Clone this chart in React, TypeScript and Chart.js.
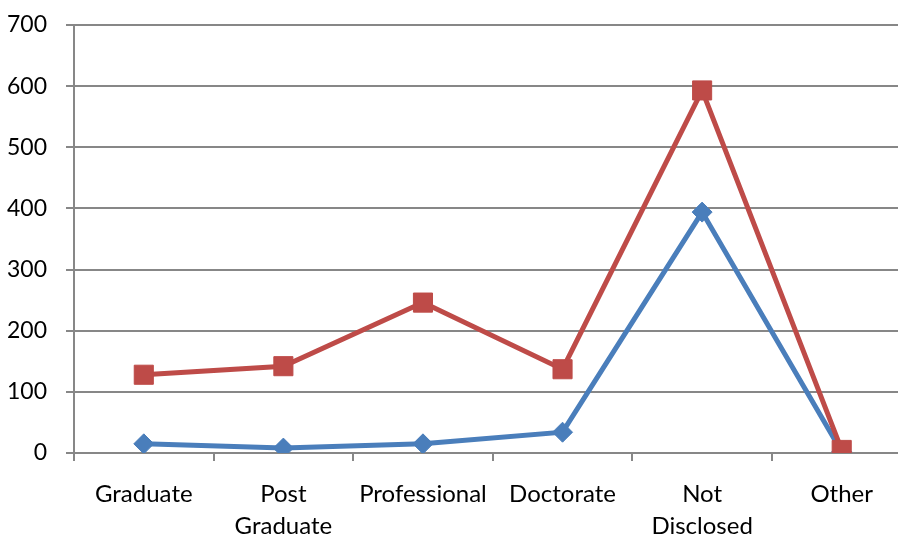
import React, { useEffect, useRef } from "react";
import { Chart, registerables } from "chart.js";

Chart.register(...registerables);

const categories: (string | string[])[] = [
  "Graduate",
  ["Post", "Graduate"],
  "Professional",
  "Doctorate",
  ["Not", "Disclosed"],
  "Other",
];
const seriesA = [15, 8, 15, 34, 394, 2];
const seriesB = [128, 142, 246, 137, 593, 5];
const yTicks = { min: 0, max: 700, step: 100 };

const FONT = "Lato, 'Open Sans', 'Liberation Sans', sans-serif";
const GRID = "#878787";

// drop the automatic label overhang so the plot area is set by layout padding only
const noOverhang = (s: any) => {
  s.paddingTop = 0;
  s.paddingBottom = 0;
  s.paddingLeft = 0;
  s.paddingRight = 0;
};

// the plot runs a little past the right edge of the visible frame
const CANVAS_W = 926;

export default function App() {
  const ref = useRef<HTMLCanvasElement | null>(null);

  useEffect(() => {
    if (!ref.current) return;
    const chart = new Chart(ref.current, {
      type: "line",
      data: {
        labels: categories,
        datasets: [
          {
            label: "A",
            data: seriesA,
            order: 2, // drawn underneath series B
            borderColor: "#4A7EBB",
            backgroundColor: "#4A7EBB",
            borderWidth: 5,
            pointStyle: "rectRot",
            pointRadius: 10,
            pointHoverRadius: 10,
            pointBorderWidth: 1,
            tension: 0,
          },
          {
            label: "B",
            data: seriesB,
            order: 1,
            borderColor: "#BE4B48",
            backgroundColor: "#BE4B48",
            borderWidth: 5,
            pointStyle: "rect",
            pointRadius: 13.5,
            pointHoverRadius: 13.5,
            pointBorderWidth: 1,
            tension: 0,
          },
        ],
      },
      options: {
        animation: false,
        responsive: false,
        layout: { padding: { top: 25, right: 0, left: 0, bottom: 0 } },
        plugins: { legend: { display: false }, tooltip: { enabled: false } },
        scales: {
          x: {
            offset: true,
            grid: {
              offset: true,
              drawOnChartArea: false,
              drawTicks: true,
              tickLength: 8,
              color: GRID,
              lineWidth: 2,
            },
            border: { color: GRID, width: 2 },
            ticks: {
              color: "#000",
              font: { family: FONT, size: 24, lineHeight: 1.33 },
              padding: 17,
              maxRotation: 0,
              autoSkip: false,
            },
            afterFit: (s: any) => {
              s.height = 82;
              noOverhang(s);
            },
          },
          y: {
            min: yTicks.min,
            max: yTicks.max,
            grid: { color: GRID, lineWidth: 2, tickLength: 8 },
            border: { color: GRID, width: 2 },
            ticks: {
              stepSize: yTicks.step,
              color: "#000",
              font: { family: FONT, size: 23 },
              padding: 19,
            },
            afterFit: (s: any) => {
              s.width = 74;
              noOverhang(s);
            },
          },
        },
      },
    });
    return () => chart.destroy();
  }, []);

  return (
    <div
      style={{
        position: "fixed",
        left: 0,
        top: 0,
        width: 898,
        height: 535,
        overflow: "hidden",
        background: "#fff",
      }}
    >
      <div style={{ width: CANVAS_W, height: 535 }}>
        <canvas ref={ref} width={CANVAS_W} height={535} />
      </div>
    </div>
  );
}
